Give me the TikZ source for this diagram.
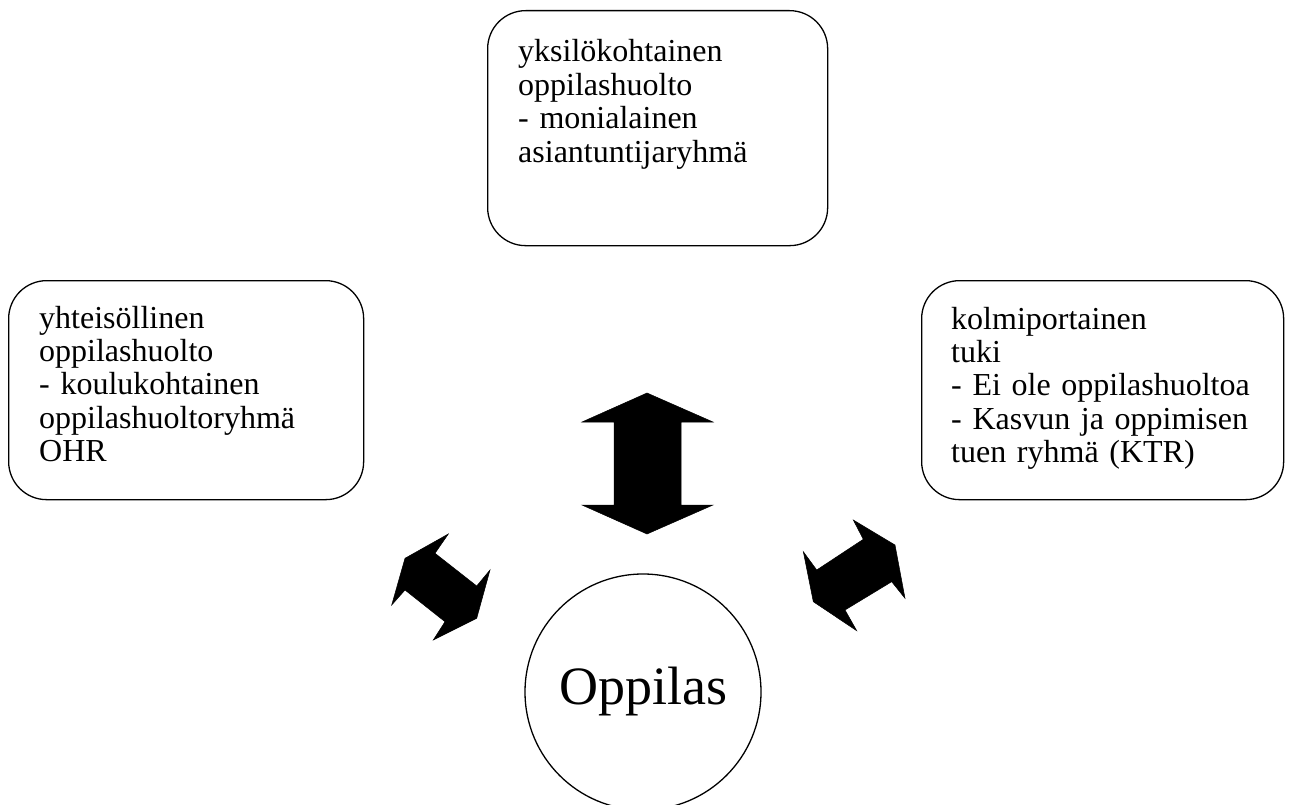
\documentclass[tikz,border=0pt]{standalone}
\usepackage{fontspec}
\setmainfont{Liberation Serif}
\begin{document}
\begin{tikzpicture}[x=1pt,y=-1pt,
  box/.style={draw, line width=1.3pt, rounded corners=38pt, anchor=north west, inner sep=0pt},
  boxtext/.style={anchor=base west, inner sep=0pt, align=left, text width=330pt,
    font=\fontsize{32}{33.4}\selectfont},
  bigarrow/.style={fill=black, draw=black, line width=0.5pt, line join=miter}]
\useasboundingbox (0,0) rectangle (1293,805);

% boxes
\node[box, minimum width=340pt, minimum height=235pt] (top) at (487,10) {};
\node[box, minimum width=355pt, minimum height=219pt] (left) at (8,280) {};
\node[box, minimum width=362pt, minimum height=219pt] (right) at (921,280) {};

\node[boxtext] (toptext) at (518,62) {yksilökohtainen\\oppilashuolto\\- monialainen\\asiantuntijaryhmä};
\node[boxtext] (lefttext) at (39,328) {yhteisöllinen\\oppilashuolto\\- koulukohtainen\\oppilashuoltoryhmä\\OHR};
\node[boxtext] (righttext) at (951,329) {kolmiportainen\\tuki\\- Ei ole oppilashuoltoa\\- Kasvun ja oppimisen\\tuen ryhmä (KTR)};

% circle
\node[draw, circle, line width=1.3pt, minimum size=236pt, inner sep=0pt,
  font=\fontsize{54}{60}\selectfont] (oppilas) at (643,692) {Oppilas};

% vertical double arrow
\fill[bigarrow] (647,393) -- (713,422) -- (681,422) -- (681,505) -- (713,505)
  -- (647,534) -- (582,505) -- (614,505) -- (614,422) -- (582,422) -- cycle;

% left diagonal double arrow
\fill[bigarrow] (448.3,534) -- (405,558.3) -- (391.7,605) -- (405,590) -- (445,621.7)
  -- (433.3,640) -- (476.7,618.3) -- (490,570) -- (476.7,586) -- (435,553.3) -- cycle;

% right diagonal double arrow
\fill[bigarrow] (853.3,520) -- (895,545) -- (905,598.3) -- (891.7,581.7) -- (845,610)
  -- (856.7,630.7) -- (813.3,601.7) -- (803.3,551.7) -- (816.7,570) -- (863.3,539.3) -- cycle;
\end{tikzpicture}
\end{document}
